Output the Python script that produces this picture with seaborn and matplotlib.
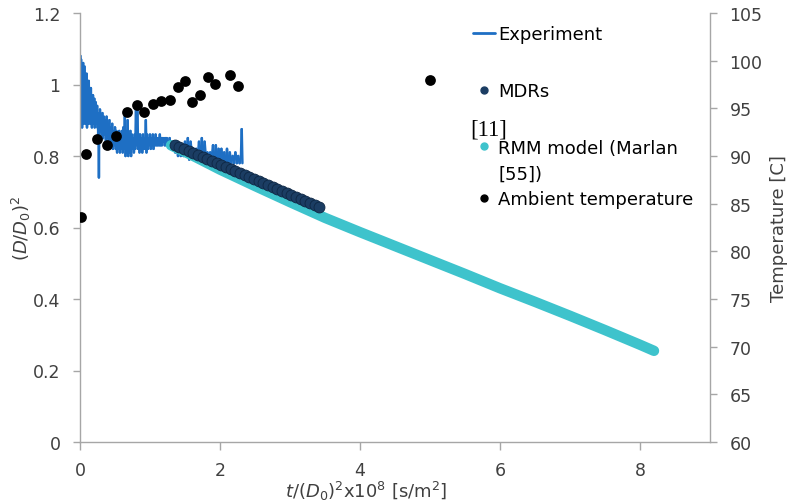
import numpy as np
import pandas as pd
import matplotlib
matplotlib.use("Agg")
import matplotlib.pyplot as plt
import seaborn as sns
from matplotlib.lines import Line2D

# ===== data =====
# Experiment trace (x, (D/D0)^2)
exp_pts = [
    (0.000, 0.90), (0.005, 1.08), (0.010, 0.89), (0.015, 1.07), (0.020, 0.92), (0.025, 1.06),
    (0.030, 0.88), (0.035, 1.05), (0.040, 0.93), (0.045, 1.06), (0.050, 0.89), (0.055, 1.04),
    (0.060, 0.91), (0.065, 1.05), (0.070, 0.90), (0.075, 1.03), (0.080, 0.89), (0.085, 1.02),
    (0.090, 0.92), (0.095, 1.03), (0.100, 0.88), (0.105, 1.01), (0.110, 0.90), (0.115, 1.00),
    (0.120, 0.89), (0.125, 1.01), (0.130, 0.91), (0.135, 0.99), (0.140, 0.90), (0.145, 0.98),
    (0.150, 0.89), (0.155, 0.99), (0.160, 0.92), (0.165, 0.97), (0.170, 0.88), (0.175, 0.96),
    (0.180, 0.90), (0.185, 0.97), (0.190, 0.89), (0.195, 0.95), (0.200, 0.91), (0.205, 0.96),
    (0.210, 0.88), (0.215, 0.94), (0.220, 0.90), (0.225, 0.95), (0.230, 0.89), (0.235, 0.93),
    (0.240, 0.91), (0.245, 0.94), (0.250, 0.88), (0.255, 0.92), (0.260, 0.86), (0.265, 0.90),
    (0.270, 0.74), (0.275, 0.92), (0.280, 0.87), (0.285, 0.93), (0.290, 0.88), (0.295, 0.91),
    (0.300, 0.87),
    (0.31, 0.86), (0.32, 0.92), (0.33, 0.85), (0.34, 0.91), (0.35, 0.86), (0.36, 0.90),
    (0.37, 0.84), (0.38, 0.91), (0.39, 0.85), (0.40, 0.89), (0.41, 0.84), (0.42, 0.90),
    (0.43, 0.83), (0.44, 0.88), (0.45, 0.84), (0.46, 0.89), (0.47, 0.82), (0.48, 0.87),
    (0.49, 0.83), (0.50, 0.88), (0.51, 0.82), (0.52, 0.87), (0.53, 0.81), (0.54, 0.86),
    (0.55, 0.82), (0.56, 0.87), (0.57, 0.81), (0.58, 0.86), (0.59, 0.82), (0.60, 0.87),
    (0.61, 0.81), (0.62, 0.88), (0.63, 0.82), (0.64, 0.91), (0.65, 0.80), (0.66, 0.87),
    (0.67, 0.81), (0.68, 0.90), (0.69, 0.80), (0.70, 0.86), (0.71, 0.81), (0.72, 0.87),
    (0.73, 0.80), (0.74, 0.86), (0.75, 0.82), (0.76, 0.85), (0.77, 0.81), (0.78, 0.86),
    (0.79, 0.82), (0.80, 0.94), (0.81, 0.83), (0.82, 0.93), (0.83, 0.82), (0.84, 0.86),
    (0.85, 0.81), (0.86, 0.86), (0.87, 0.82), (0.88, 0.85), (0.89, 0.81), (0.90, 0.86),
    (0.91, 0.82), (0.92, 0.85), (0.93, 0.82), (0.94, 0.90), (0.95, 0.81), (0.96, 0.86),
    (0.97, 0.82), (0.98, 0.85), (0.99, 0.83), (1.00, 0.86), (1.01, 0.82), (1.02, 0.85),
    (1.03, 0.83), (1.04, 0.86), (1.05, 0.82), (1.06, 0.85), (1.07, 0.83), (1.08, 0.86),
    (1.09, 0.83), (1.10, 0.85), (1.11, 0.83), (1.12, 0.85), (1.13, 0.83), (1.14, 0.86),
    (1.15, 0.83), (1.16, 0.85), (1.17, 0.83), (1.18, 0.85), (1.19, 0.84), (1.20, 0.85),
    (1.21, 0.83), (1.22, 0.85), (1.23, 0.83), (1.24, 0.85), (1.25, 0.83), (1.26, 0.84),
    (1.27, 0.83), (1.28, 0.85), (1.29, 0.82), (1.30, 0.84),
    (1.32, 0.82), (1.34, 0.84), (1.36, 0.81), (1.38, 0.84), (1.40, 0.80), (1.42, 0.83),
    (1.44, 0.80), (1.46, 0.83), (1.48, 0.80), (1.50, 0.84), (1.52, 0.80), (1.54, 0.85),
    (1.56, 0.79), (1.58, 0.84), (1.60, 0.80), (1.62, 0.82), (1.64, 0.79), (1.66, 0.82),
    (1.68, 0.79), (1.70, 0.84), (1.72, 0.79), (1.74, 0.85), (1.76, 0.79), (1.78, 0.84),
    (1.80, 0.79), (1.82, 0.81), (1.84, 0.78), (1.86, 0.81), (1.88, 0.79), (1.90, 0.83),
    (1.92, 0.78), (1.94, 0.83), (1.96, 0.79), (1.98, 0.82), (2.00, 0.78), (2.02, 0.82),
    (2.04, 0.78), (2.06, 0.81), (2.08, 0.78), (2.10, 0.82), (2.12, 0.78), (2.14, 0.81),
    (2.16, 0.78), (2.18, 0.80), (2.20, 0.78), (2.22, 0.81), (2.24, 0.78), (2.26, 0.80),
    (2.28, 0.78), (2.30, 0.80), (2.31, 0.875), (2.32, 0.78),
]
exp_x = [p[0] for p in exp_pts]
exp_y = [p[1] for p in exp_pts]

mdr_x = [1.35, 1.42, 1.48, 1.55, 1.62, 1.68, 1.75, 1.82, 1.88, 1.95, 2.02, 2.08, 2.15, 2.22, 2.28, 2.35,
         2.42, 2.48, 2.55, 2.62, 2.68, 2.75, 2.82, 2.88, 2.95, 3.02, 3.08, 3.15, 3.22, 3.28, 3.35, 3.42]
mdr_y = [0.830, 0.825, 0.819, 0.814, 0.808, 0.803, 0.797, 0.791, 0.786, 0.780, 0.775, 0.769, 0.764,
         0.758, 0.753, 0.747, 0.742, 0.736, 0.730, 0.725, 0.719, 0.714, 0.708, 0.702, 0.697, 0.691,
         0.686, 0.680, 0.674, 0.669, 0.663, 0.657]

rmm_x = [1.30, 1.60, 2.00, 2.50, 3.00, 3.50, 4.00, 4.50, 5.00, 5.50, 6.00, 6.50, 7.00, 7.50, 8.00, 8.20]
rmm_y = [0.830, 0.802, 0.762, 0.716, 0.671, 0.627, 0.587, 0.548, 0.509, 0.470, 0.430, 0.392, 0.353,
         0.313, 0.272, 0.255]

amb_x = [0.01, 0.09, 0.24, 0.39, 0.52, 0.67, 0.81, 0.92, 1.04, 1.16, 1.28, 1.40, 1.50, 1.60, 1.71,
         1.83, 1.93, 2.14, 2.25, 5.00]
amb_t = [83.6, 90.2, 91.8, 91.2, 92.1, 94.6, 95.4, 94.6, 95.5, 95.8, 95.9, 97.2, 97.9, 95.7, 96.4,
         98.3, 97.6, 98.5, 97.3, 98.0]

c_exp = '#1e6fc4'
c_mdr = '#1b3d63'
c_rmm = '#3ec3cc'
c_axis = '#a6a6a6'
c_text = '#404040'

# experiment trace split into single segments so overlapping strokes stay solid
seg_rows = []
for i in range(len(exp_x) - 1):
    seg_rows.append({'x': exp_x[i], 'y': exp_y[i], 'seg': i})
    seg_rows.append({'x': exp_x[i + 1], 'y': exp_y[i + 1], 'seg': i})
seg_df = pd.DataFrame(seg_rows)

sns.set_theme(style='white')
plt.rcParams['font.family'] = ['DejaVu Sans']
plt.rcParams['mathtext.fontset'] = 'dejavusans'
plt.rcParams['path.simplify'] = False

fig = plt.figure(figsize=(7.92, 5.02), dpi=100)
ax = fig.add_axes([80 / 792, 59 / 502, 630 / 792, 429 / 502])
ax2 = ax.twinx()

sns.lineplot(data=seg_df, x='x', y='y', units='seg', estimator=None, ax=ax, color=c_exp,
             linewidth=1.8, sort=False, zorder=2, solid_capstyle='round')
sns.lineplot(x=rmm_x, y=rmm_y, ax=ax, color=c_rmm, linewidth=7.5, sort=False, zorder=3,
             solid_capstyle='round')
sns.scatterplot(x=mdr_x, y=mdr_y, ax=ax, color=c_mdr, s=62, linewidth=0.6,
                edgecolor='#0e2744', zorder=4)
sns.scatterplot(x=amb_x, y=amb_t, ax=ax2, color='black', s=60, linewidth=0, zorder=5)

ax.set_xlim(0, 9)
ax.set_ylim(0, 1.2)
ax.set_xticks([0, 2, 4, 6, 8])
ax.set_yticks([0, 0.2, 0.4, 0.6, 0.8, 1.0, 1.2])
ax.set_yticklabels(['0', '0.2', '0.4', '0.6', '0.8', '1', '1.2'])
ax2.set_ylim(60, 105)
ax2.set_yticks(range(60, 106, 5))

for a in (ax, ax2):
    for side in ['top', 'right', 'left', 'bottom']:
        a.spines[side].set_color(c_axis)
        a.spines[side].set_linewidth(1.0)
    a.spines['top'].set_visible(False)
    a.tick_params(colors=c_axis, labelcolor=c_text, labelsize=12.5, width=1.0)
ax.spines['right'].set_visible(False)
ax2.spines['left'].set_visible(False)
ax2.spines['bottom'].set_visible(False)
ax.tick_params(axis='y', left=True, length=5, pad=9)
ax.tick_params(axis='x', bottom=True, length=6, pad=8)
ax2.tick_params(axis='y', right=True, length=5, pad=9)

ax.set_ylabel(r'$(D/D_0)^2$', fontsize=13, color=c_text)
ax.yaxis.set_label_coords(-0.074, 0.5)
ax.set_xlabel(r'$t/(D_0)^2$x10$^8$ [s/m$^2$]', fontsize=13, color=c_text)
ax.xaxis.set_label_coords(0.455, -0.085)
ax2.set_ylabel('Temperature [C]', fontsize=13, color=c_text)
ax2.yaxis.set_label_coords(1.095, 0.5)

# legend, split up like the original layout
h1 = [Line2D([], [], color=c_exp, linewidth=2),
      Line2D([], [], color=c_mdr, marker='o', linestyle='none', markersize=5),
      Line2D([], [], color=c_rmm, marker='o', linestyle='none', markersize=5)]
l1 = ['Experiment', 'MDRs', 'RMM model (Marlan']
fig.legend(h1, l1, loc='upper left', bbox_to_anchor=(473 / 792, 1 - 26 / 502),
           frameon=False, fontsize=13, labelspacing=2.15, handlelength=1.2,
           handletextpad=0.2, borderpad=0, borderaxespad=0, labelcolor='black')
fig.text(498 / 792, 1 - 175 / 502, '[55])', fontsize=13, color='black', va='center', ha='left')
h2 = [Line2D([], [], color='black', marker='o', linestyle='none', markersize=5)]
fig.legend(h2, ['Ambient temperature'], loc='upper left',
           bbox_to_anchor=(473 / 792, 1 - 191 / 502), frameon=False, fontsize=13,
           handlelength=1.2, handletextpad=0.2, borderpad=0, borderaxespad=0,
           labelcolor='black')

fig.text(470 / 792, 1 - 130 / 502, '[11]', family='Liberation Serif', fontsize=16.5,
         color='black', va='center', ha='left')

fig.savefig('out.png', dpi=100)
